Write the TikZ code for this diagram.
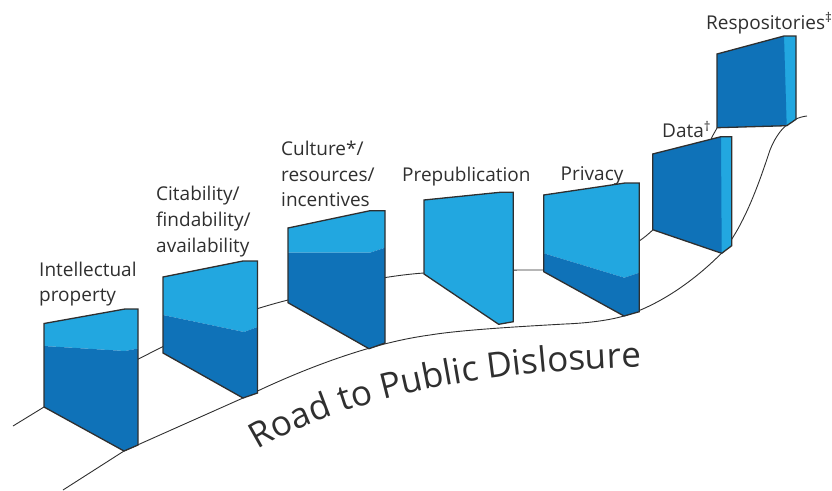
\documentclass[tikz,border=0pt]{standalone}
\usepackage{fontspec}
\usetikzlibrary{decorations.text}
\setmainfont{Open Sans}
\definecolor{lightblue}{HTML}{22A7E0}
\definecolor{darkblue}{HTML}{0F72B8}
\definecolor{ink}{HTML}{2F2F2F}
\tikzset{
  road/.style={draw=ink,line width=0.9pt},
  outline/.style={draw=ink,line width=1.3pt,line join=miter},
  lightpart/.style={fill=lightblue},
  darkpart/.style={fill=darkblue},
  lbl/.style={text=ink,inner sep=0pt,anchor=base west,align=left,font=\fontsize{19}{25.6}\selectfont},
}
\begin{document}
\begin{tikzpicture}[x=1pt,y=-1pt]
\useasboundingbox (0,0) rectangle (832,490);
% roads
\draw[road] (13,426) -- (44,407) -- (163,346.5) .. controls (205,326) and (245,311) .. (288,300)
  .. controls (330,288) and (380,276) .. (424,273) .. controls (465,270) and (510,270) .. (543.7,270)
  .. controls (590,268) and (630,252) .. (652.7,230) .. controls (680,200) and (703,160) .. (712,137) -- (717,128);
\draw[road] (63,490) -- (124,451) -- (243,398) .. controls (300,370) and (370,343) .. (430,335)
  .. controls (460,330) and (520,326.5) .. (565,324) .. controls (590,323) and (610,320) .. (624,316)
  .. controls (660,305) and (695,280) .. (721.7,253) .. controls (745,225) and (760,180) .. (770,150)
  .. controls (778,130) and (790,118) .. (807,116);
% panel 1
\fill[lightpart] (44,323.5) -- (125,309) -- (138,309) -- (138,348.5) -- (125,351) -- (44,346) -- cycle;
\fill[darkpart] (44,346) -- (125,351) -- (138,348.5) -- (138,445) -- (124,451) -- (44,407) -- cycle;
\draw[outline] (44,323.5) -- (125,309) -- (138,309) -- (138,445) -- (124,451) -- (44,407) -- cycle;
% panel 2
\fill[lightpart] (163,277) -- (243,261) -- (257.5,261) -- (257.5,327) -- (244,332) -- (163,315) -- cycle;
\fill[darkpart] (163,315) -- (244,332) -- (257.5,327) -- (257.5,393) -- (243,398) -- (163,353) -- cycle;
\draw[outline] (163,277) -- (243,261) -- (257.5,261) -- (257.5,393) -- (243,398) -- (163,353) -- cycle;
% panel 3
\fill[lightpart] (288,228) -- (370,210.7) -- (385,210.7) -- (385,247.7) -- (370,252.7) -- (288,252.7) -- cycle;
\fill[darkpart] (288,252.7) -- (370,252.7) -- (385,247.7) -- (385,343) -- (369,348.7) -- (288,302.7) -- cycle;
\draw[outline] (288,228) -- (370,210.7) -- (385,210.7) -- (385,343) -- (369,348.7) -- (288,302.7) -- cycle;
% panel 4
\filldraw[outline,lightpart] (424,200) -- (500,192.3) -- (513.3,192.3) -- (513.3,321.7) -- (498.7,324.3) -- (424,274) -- cycle;
% panel 5
\fill[lightpart] (543.7,195) -- (625,183) -- (639.3,183) -- (639.3,272.7) -- (624.3,277.7) -- (543.7,253.3) -- cycle;
\fill[darkpart] (543.7,253.3) -- (624.3,277.7) -- (639.3,272.7) -- (639.3,311.7) -- (624,316) -- (543.7,271.7) -- cycle;
\draw[outline] (543.7,195) -- (625,183) -- (639.3,183) -- (639.3,311.7) -- (624,316) -- (543.7,271.7) -- cycle;
% panel 6
\fill[lightpart] (652.7,154) -- (721,136.7) -- (731.7,136.7) -- (731.7,245.7) -- (721.7,253.3) -- (652.7,229.7) -- cycle;
\fill[darkpart] (652.7,154) -- (721,136.7) -- (721.7,253.3) -- (652.7,229.7) -- cycle;
\draw[outline] (652.7,154) -- (721,136.7) -- (731.7,136.7) -- (731.7,245.7) -- (721.7,253.3) -- (652.7,229.7) -- cycle;
% panel 7
\fill[lightpart] (717,54) -- (784,36) -- (796,36) -- (796,119.3) -- (786.7,125.7) -- (717,127.7) -- cycle;
\fill[darkpart] (717,54) -- (784,36) -- (786.7,125.7) -- (717,127.7) -- cycle;
\draw[outline] (717,54) -- (784,36) -- (796,36) -- (796,119.3) -- (786.7,125.7) -- (717,127.7) -- cycle;
% labels
\node[lbl] (ip) at (39,301.7) {Intellectual\\property};
\node[lbl] (cit) at (156,252) {Citability/\\findability/\\availability};
\node[lbl] (cul) at (281,206.7) {Culture*/\\resources/\\incentives};
\node[lbl] (pre) at (402,181.7) {Prepublication};
\node[lbl] (pri) at (560.5,180) {Privacy};
\node[lbl] (dat) at (662,137.7) {Data\textsuperscript{†}};
\node[lbl] (rep) at (706,29) {Respositories\textsuperscript{‡}};
\path[postaction={decorate,decoration={text along path,text align={left},
   text={|\fontsize{35}{42}\selectfont\color{ink}|Road to Public Dislosure}}}]
   (258,450) .. controls (340,400) and (480,370) .. (645,367);
\end{tikzpicture}
\end{document}
